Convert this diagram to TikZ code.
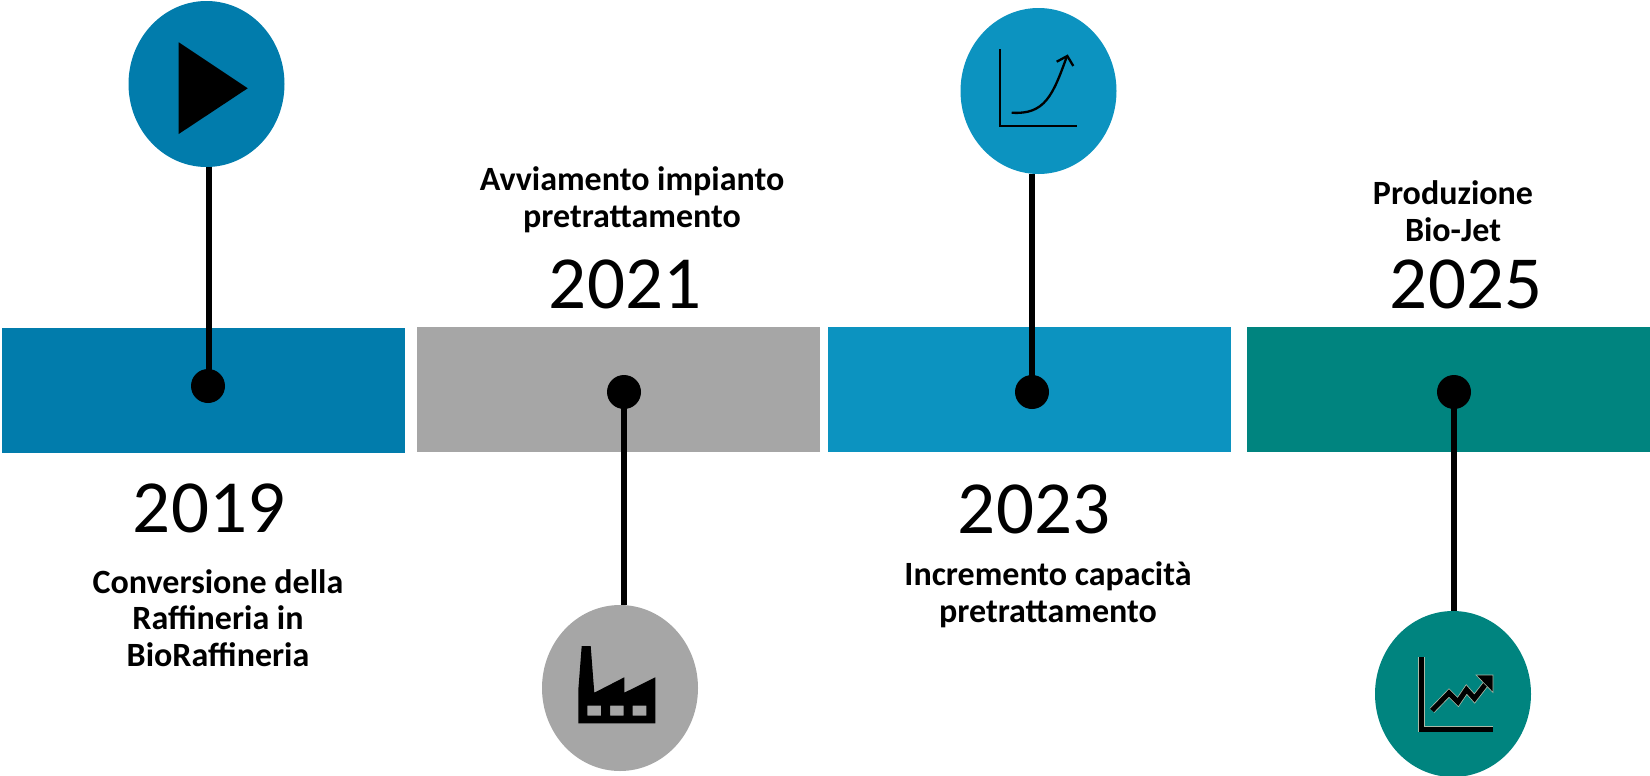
\documentclass[tikz,border=0pt]{standalone}
\usepackage{fontspec}
\setmainfont{Carlito}
\usetikzlibrary{shapes.geometric}
\definecolor{cblue}{HTML}{017CAC}
\definecolor{cgray}{HTML}{A6A6A6}
\definecolor{clight}{HTML}{0C93C0}
\definecolor{cteal}{HTML}{00847F}
\definecolor{cedge}{HTML}{A9B8A6}
\tikzset{
  x=0.5pt,y=-0.5pt,
  band/.style={rectangle,draw=none,inner sep=0pt,minimum width=201.5pt,minimum height=62.5pt},
  disc/.style={ellipse,draw=none,inner sep=0pt,minimum width=78pt,minimum height=83pt},
  dot/.style={circle,fill=black,inner sep=0pt,minimum size=17pt},
  stem/.style={line width=2.8pt,draw=black},
  year/.style={font=\fontsize{37.5}{40}\selectfont,inner sep=0pt},
  lab/.style={font=\fontsize{17}{18.3}\selectfont\bfseries,align=center,inner sep=0pt},
  icon/.style={fill=black,draw=none},
  thin axis/.style={draw=black,line width=1.15pt},
}
\begin{document}
\begin{tikzpicture}
\useasboundingbox (0,0) rectangle (1650,776);
% bands
\node[band,fill=cblue] (b1) at (203.5,390.5) {};
\node[band,fill=cgray] (b2) at (618,389) {};
\node[band,fill=clight] (b3) at (1029.5,389) {};
\node[band,fill=cteal] (b4) at (1448.5,389) {};
% discs
\node[disc,fill=cblue] (c1) at (206.5,84) {};
\node[disc,fill=cgray] (c2) at (620,688) {};
\node[disc,fill=clight] (c3) at (1038.5,91) {};
\node[disc,fill=cteal] (c4) at (1453,694) {};
% dots
\node[dot] (d1) at (208,386) {};
\node[dot] (d2) at (624,392) {};
\node[dot] (d3) at (1032,392) {};
\node[dot] (d4) at (1454,392) {};
% stems
\draw[stem] ([xshift=.5pt]d1.center) -- ([xshift=.5pt]d1.center |- c1.south);
\draw[stem] (d2.center) -- (d2.center |- c2.north);
\draw[stem] (d3.center) -- (d3.center |- c3.south);
\draw[stem] (d4.center) -- (d4.center |- c4.north);
% play icon
\fill[icon] (178.7,42.3) -- (247.7,88.3) -- (178.7,134) -- cycle;
% factory icon
\fill[icon,even odd rule] (581.7,646) -- (590.7,646) -- (594.3,692.7) -- (624.3,677.3) -- (624.3,692.7) -- (655.3,677.3) -- (655.3,723.3) -- (578.3,723.3) -- (578.3,690) -- cycle
  (587.3,705.7) rectangle (601,715.7)
  (610,705.7) rectangle (623.7,715.7)
  (632.7,705.7) rectangle (646.3,715.7);
% curve icon
\draw[thin axis] (1000,49.3) -- (1000,125.7) -- (1076.7,125.7);
\draw[thin axis] (1011.7,112.7) .. controls (1045,115) and (1053,95) .. (1067,56);
\draw[thin axis] (1056.7,61.7) -- (1067.3,56) -- (1073.3,66);
% growth icon
\foreach \w/\c in {3.3pt/cedge,2.5pt/black}{
  \draw[line width=\w,draw=\c,line join=miter] (1421.3,657) -- (1421.3,729) -- (1492.7,729);
  \draw[line width=\w,draw=\c,line join=miter] (1432,710.5) -- (1449,693) -- (1458,702) -- (1466.5,689.5) -- (1474.5,698.5) -- (1488,681);
}
\fill[draw=cedge,line width=.3pt,fill=black] (1476,675) -- (1493,675) -- (1493,692.5) -- cycle;
% years
\node[year] (y1) at (209,508) {2019};
\node[year] (y2) at (625,284) {2021};
\node[year] (y3) at (1034,509) {2023};
\node[year] (y4) at (1466,284) {2025};
% labels
\node[lab] (t1) at (218,618) {Conversione della\\Raffineria in\\BioRaffineria};
\node[lab] (t2) at (632,200) {Avviamento impianto\\pretrattamento};
\node[lab] (t3) at (1048,595) {Incremento capacità\\pretrattamento};
\node[lab] (t4) at (1453,211) {Produzione\\Bio-Jet};
\end{tikzpicture}
\end{document}
